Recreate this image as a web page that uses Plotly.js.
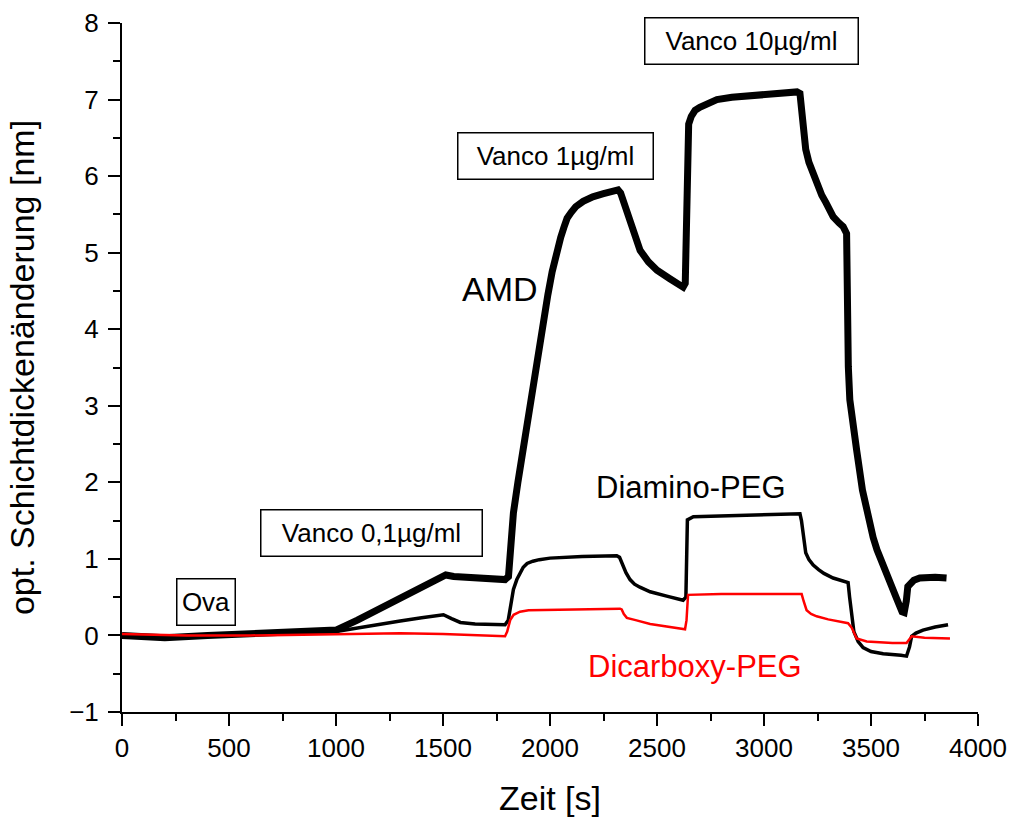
<!DOCTYPE html>
<html>
<head>
<meta charset="utf-8">
<script src="https://cdn.plot.ly/plotly-3.0.1.min.js"></script>
<style>html,body{margin:0;padding:0;background:#fff;}#chart{width:1012px;height:820px;}</style>
</head>
<body>
<div id="chart"></div>
<script>
// AMD (thick black)
const amdX = [0,200,400,600,800,950,1000,1100,1200,1300,1400,1480,1513,1550,1650,1750,1790,1806,1815,1829,1850,1876,1900,1923,1945,1969,1990,2010,2030,2050,2065,2080,2100,2120,2155,2200,2250,2300,2318,2330,2345,2360,2390,2421,2460,2500,2560,2622,2632,2636,2640,2648,2660,2678,2700,2720,2750,2780,2850,2950,3050,3154,3168,3176,3183,3195,3210,3230,3246,3270,3290,3323,3350,3370,3386,3389,3394,3401,3415,3433,3460,3487,3510,3528,3560,3590,3620,3645,3655,3665,3672,3700,3728,3800,3853];
const amdY = [0.0,-0.03,0.0,0.02,0.03,0.05,0.07,0.2,0.34,0.48,0.62,0.74,0.79,0.77,0.76,0.74,0.73,0.77,1.1,1.6,2.0,2.47,2.9,3.34,3.7,4.1,4.45,4.75,5.0,5.2,5.33,5.45,5.53,5.6,5.67,5.73,5.77,5.8,5.82,5.78,5.65,5.5,5.25,5.03,4.88,4.77,4.66,4.55,4.6,5.5,6.5,6.68,6.78,6.86,6.9,6.93,6.97,7.0,7.03,7.06,7.08,7.1,7.08,6.85,6.56,6.35,6.18,6.02,5.9,5.75,5.65,5.47,5.39,5.34,5.25,3.95,3.51,3.08,2.75,2.42,1.9,1.51,1.28,1.12,0.88,0.69,0.48,0.31,0.3,0.45,0.64,0.72,0.75,0.76,0.75];
// Diamino-PEG (medium black)
const diaX = [0,200,400,600,800,973,1100,1200,1300,1400,1502,1540,1581,1650,1790,1805,1815,1829,1845,1860,1875,1893,1920,1950,2000,2150,2312,2325,2340,2355,2374,2395,2420,2468,2550,2622,2635,2642,2670,2800,3000,3168,3175,3185,3195,3210,3230,3255,3280,3323,3393,3400,3410,3420,3440,3463,3500,3557,3640,3666,3680,3690,3710,3743,3800,3860];
const diaY = [0.0,-0.02,0.0,0.02,0.03,0.04,0.1,0.15,0.19,0.23,0.27,0.22,0.17,0.15,0.14,0.2,0.4,0.6,0.73,0.82,0.89,0.94,0.97,0.99,1.01,1.03,1.04,1.02,0.92,0.82,0.73,0.67,0.63,0.57,0.51,0.46,0.5,1.51,1.55,1.56,1.58,1.59,1.5,1.25,1.08,0.99,0.92,0.86,0.81,0.75,0.69,0.5,0.25,0.05,-0.08,-0.16,-0.21,-0.24,-0.26,-0.27,-0.15,-0.01,0.03,0.07,0.11,0.14];
// Dicarboxy-PEG (red)
const dicX = [0,300,600,900,1000,1300,1500,1790,1800,1808,1814,1830,1860,1900,2100,2327,2335,2345,2359,2380,2400,2468,2550,2631,2638,2645,2800,3000,3176,3185,3199,3220,3246,3300,3393,3410,3433,3480,3600,3666,3690,3750,3869];
const dicY = [0.02,0.0,0.0,0.01,0.02,0.03,0.02,-0.01,0.05,0.15,0.2,0.27,0.31,0.33,0.34,0.35,0.34,0.28,0.23,0.21,0.2,0.15,0.11,0.08,0.2,0.53,0.54,0.54,0.54,0.45,0.33,0.28,0.25,0.21,0.16,0.1,-0.04,-0.08,-0.1,-0.1,-0.01,-0.03,-0.04];

const seriesNames = ["AMD", "Diamino-PEG", "Dicarboxy-PEG"];
const xTitle = "Zeit [s]";
const yTitle = "opt. Schichtdickenänderung [nm]";
const boxLabels = ["Ova", "Vanco 0,1µg/ml", "Vanco 1µg/ml", "Vanco 10µg/ml"];
const boxX = [391, 1164, 2024, 2941];
const boxY = [0.44, 1.34, 6.26, 7.76];
const boxW = [57, 220, 194, 212];

const FONT = "Arial, 'Liberation Sans', sans-serif";

const traces = [
  {x: amdX, y: amdY, mode: "lines", name: seriesNames[0], line: {color: "#000", width: 7}},
  {x: diaX, y: diaY, mode: "lines", name: seriesNames[1], line: {color: "#000", width: 3.5}},
  {x: dicX, y: dicY, mode: "lines", name: seriesNames[2], line: {color: "#ff0000", width: 2.5}}
];

const annotations = boxLabels.map((t, i) => ({
  text: t, x: boxX[i], y: boxY[i], xref: "x", yref: "y",
  showarrow: false, font: {family: FONT, size: 26, color: "#000"},
  bordercolor: "#000", borderwidth: 1.5, borderpad: 0,
  width: boxW[i], height: 45, bgcolor: "#fff", align: "center", valign: "middle"
}));
annotations.push({text: seriesNames[0], x: 1767, y: 4.52, xref: "x", yref: "y", showarrow: false, font: {family: FONT, size: 34, color: "#000"}});
annotations.push({text: seriesNames[1], x: 2659, y: 1.93, xref: "x", yref: "y", showarrow: false, font: {family: FONT, size: 31, color: "#000"}});
annotations.push({text: seriesNames[2], x: 2678, y: -0.40, xref: "x", yref: "y", showarrow: false, font: {family: FONT, size: 31, color: "#ff0000"}});

const layout = {
  width: 1012, height: 820,
  margin: {l: 122, r: 34, t: 23, b: 108, pad: 0},
  paper_bgcolor: "#fff", plot_bgcolor: "#fff",
  showlegend: false,
  font: {family: FONT, color: "#000"},
  xaxis: {
    range: [0, 4000], showgrid: false, zeroline: false,
    showline: true, linecolor: "#000", linewidth: 2,
    ticks: "outside", ticklen: 12, tickwidth: 2, tickcolor: "#000",
    dtick: 500, tick0: 0,
    minor: {ticks: "outside", ticklen: 7, tickwidth: 2, tickcolor: "#000", dtick: 250, tick0: 0, showgrid: false},
    tickfont: {family: FONT, size: 26, color: "#000"},
    title: {text: xTitle, font: {family: FONT, size: 34, color: "#000"}, standoff: 24},
    automargin: false, fixedrange: true
  },
  yaxis: {
    range: [-1, 8], showgrid: false, zeroline: false,
    showline: true, linecolor: "#000", linewidth: 2,
    ticks: "outside", ticklen: 12, tickwidth: 2, tickcolor: "#000",
    dtick: 1, tick0: 0, ticklabelstandoff: 4,
    minor: {ticks: "outside", ticklen: 7, tickwidth: 2, tickcolor: "#000", dtick: 0.5, tick0: 0, showgrid: false},
    tickfont: {family: FONT, size: 26, color: "#000"},
    title: {text: yTitle, font: {family: FONT, size: 34, color: "#000"}, standoff: 24},
    automargin: false, fixedrange: true
  },
  annotations: annotations
};

Plotly.newPlot("chart", traces, layout, {displayModeBar: false, staticPlot: true});
</script>
</body>
</html>
